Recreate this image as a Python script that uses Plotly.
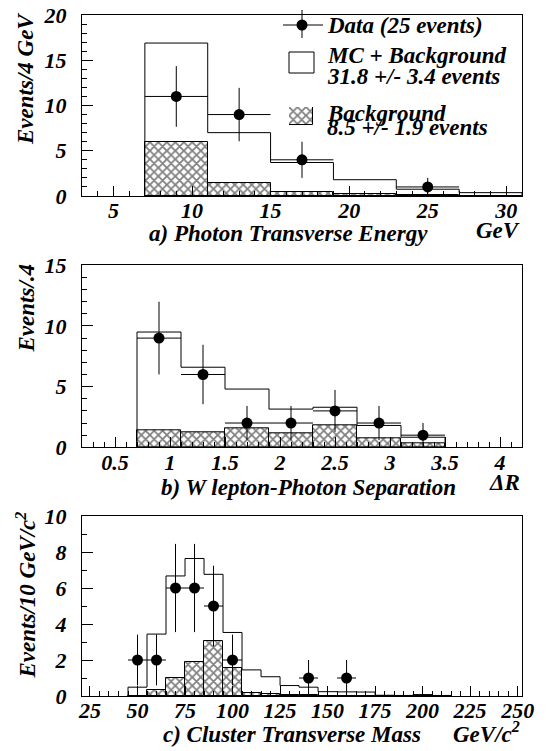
import plotly.graph_objects as go

# ---------------- data ----------------
# a) Photon transverse energy (4 GeV bins)
a_edges = [7, 11, 15, 19, 23, 27, 31]
a_mc = [16.9, 7.0, 3.7, 1.8, 0.75, 0.37]
a_bg = [6.0, 1.4, 0.48, 0.22, 0.08, 0.05]
a_data_x = [9, 13, 17, 25]
a_data_y = [11, 9, 4, 1]
a_data_err = [3.35, 2.95, 2.0, 1.0]
a_data_xerr = [2, 2, 2, 2]

# b) W lepton - photon separation (0.4 bins)
b_edges = [0.7, 1.1, 1.5, 1.9, 2.3, 2.7, 3.1, 3.5]
b_mc = [9.5, 6.6, 4.8, 3.15, 3.3, 1.8, 0.83]
b_bg = [1.38, 1.24, 1.57, 1.13, 1.84, 0.74, 0.3]
b_data_x = [0.9, 1.3, 1.7, 2.1, 2.5, 2.9, 3.3]
b_data_y = [9, 6, 2, 2, 3, 2, 1]
b_data_err = [3.0, 2.45, 1.41, 1.41, 1.73, 1.41, 1.0]
b_data_xerr = [0.2] * 7

# c) Cluster transverse mass (10 GeV/c2 bins)
c_edges = [45, 55, 65, 75, 85, 95, 105, 115, 125, 135, 145, 155, 165, 175,
           185, 195, 205, 215]
c_mc = [0.49, 3.44, 6.67, 7.64, 6.76, 3.53, 1.45, 1.07, 0.58, 0.49, 0.24,
        0.23, 0.22, 0.04, 0.03, 0.08, 0.03]
c_bg = [0.0, 0.36, 1.0, 1.89, 3.07, 1.55, 0.16, 0.13, 0.05, 0.03, 0.02,
        0.02, 0.02, 0.0, 0.0, 0.0, 0.0]
c_data_x = [50, 60, 70, 80, 90, 100, 140, 160]
c_data_y = [2, 2, 6, 6, 5, 2, 1, 1]
c_data_err = [1.41, 1.41, 2.45, 2.45, 2.24, 1.41, 1.0, 1.0]
c_data_xerr = [5] * 8

x_titles = ["a) Photon Transverse Energy", "b) W lepton-Photon Separation",
            "c) Cluster Transverse Mass"]
x_units = ["GeV", "ΔR", "GeV/c<sup>2</sup>"]
y_titles = ["Events/4 GeV", "Events/.4", "Events/10 GeV/c<sup>2</sup>"]
legend_texts = ["Data (25 events)", "MC + Background", "31.8 +/- 3.4 events",
                "Background", "8.5 +/- 1.9 events"]

# ---------------- layout helpers ----------------
# the page body has an 8 px margin, so the figure starts at (8, 8) in the window
OFF = 8
W, H = 546 - OFF, 751 - OFF
FONT = "Liberation Serif"


def px(x):
    return (x - OFF) / W


def py(y):
    return 1 - (y - OFF) / H


def bi(size):
    return dict(family=FONT, size=size, color="black", weight="bold", style="italic")


HATCH = dict(shape="x", fgcolor="black", bgcolor="white", size=6, solidity=0.5)

fig = go.Figure()

panels = [
    dict(edges=a_edges, mc=a_mc, bg=a_bg, dx=a_data_x, dy=a_data_y, de=a_data_err,
         dxe=a_data_xerr),
    dict(edges=b_edges, mc=b_mc, bg=b_bg, dx=b_data_x, dy=b_data_y, de=b_data_err,
         dxe=b_data_xerr),
    dict(edges=c_edges, mc=c_mc, bg=c_bg, dx=c_data_x, dy=c_data_y, de=c_data_err,
         dxe=c_data_xerr),
]

for i, p in enumerate(panels):
    sfx = "" if i == 0 else str(i + 1)
    xa, ya = "x" + sfx, "y" + sfx
    e = p["edges"]
    centers = [(e[k] + e[k + 1]) / 2 for k in range(len(e) - 1)]
    widths = [e[k + 1] - e[k] for k in range(len(e) - 1)]
    # background (hatched)
    fig.add_trace(go.Bar(
        x=centers, y=p["bg"], width=widths, xaxis=xa, yaxis=ya,
        marker=dict(color="white", line=dict(color="black", width=1), pattern=HATCH),
        showlegend=False))
    # MC + background step outline
    sx = [e[0]] + list(e[:-1]) + [e[-1]]
    sy = [0] + list(p["mc"]) + [0]
    fig.add_trace(go.Scatter(
        x=sx, y=sy, mode="lines", line=dict(color="black", width=1, shape="hv"),
        xaxis=xa, yaxis=ya, showlegend=False))
    # data
    fig.add_trace(go.Scatter(
        x=p["dx"], y=p["dy"], mode="markers", xaxis=xa, yaxis=ya,
        marker=dict(color="black", size=11, symbol="circle"),
        error_y=dict(type="data", array=p["de"], color="black", thickness=1, width=0),
        error_x=dict(type="data", array=p["dxe"], color="black", thickness=1, width=0),
        showlegend=False))

# legend hatched swatch on its own tiny axes
fig.add_trace(go.Bar(
    x=[0], y=[1], width=[1], xaxis="x4", yaxis="y4",
    marker=dict(color="white", line=dict(color="black", width=1), pattern=HATCH),
    showlegend=False, hoverinfo="skip"))

xdom = [px(82), px(522)]
ydoms = [[py(196), py(15)], [py(447.3), py(265.3)], [py(696), py(516)]]
xranges = [[3, 31], [0.2, 4.2], [20.8, 252.3]]
yranges = [[0, 20], [0, 15], [0, 10]]
xdticks = [5, 0.5, 25]
xminor = [1, 0.1, 5]
ydticks = [5, 5, 2]
yminor = [1, 1, 1]

layout = dict(
    width=W, height=H, margin=dict(l=0, r=0, t=0, b=0, autoexpand=False),
    paper_bgcolor="white", plot_bgcolor="white", bargap=0, barmode="overlay",
    showlegend=False,
)
for i in range(3):
    sfx = "" if i == 0 else str(i + 1)
    layout["xaxis" + sfx] = dict(
        domain=xdom, range=xranges[i], anchor="y" + sfx, showgrid=False, zeroline=False,
        showline=True, linecolor="black", linewidth=1, mirror=True, automargin=False,
        ticks="inside", ticklen=10, tickwidth=1, tickcolor="black",
        dtick=xdticks[i], tick0=0, tickfont=bi(22), ticklabelstandoff=-5,
        ticklabeloverflow="allow",
        minor=dict(ticks="inside", dtick=xminor[i], ticklen=5, tickcolor="black",
                   tickwidth=1, showgrid=False),
    )
    layout["yaxis" + sfx] = dict(
        domain=ydoms[i], range=yranges[i], anchor="x" + sfx, showgrid=False,
        zeroline=False, showline=True, linecolor="black", linewidth=1, mirror=True,
        automargin=False, ticklabeloverflow="allow",
        ticks="inside", ticklen=11, tickwidth=1, tickcolor="black",
        dtick=ydticks[i], tick0=0, tickfont=bi(22), ticklabelstandoff=10,
        minor=dict(ticks="inside", dtick=yminor[i], ticklen=5, tickcolor="black",
                   tickwidth=1, showgrid=False),
    )
layout["xaxis4"] = dict(domain=[px(289), px(313)], range=[-0.5, 0.5], anchor="y4",
                        visible=False, fixedrange=True, automargin=False)
layout["yaxis4"] = dict(domain=[py(125), py(107)], range=[0, 1], anchor="x4",
                        visible=False, fixedrange=True, automargin=False)
fig.update_layout(**layout)

ann = []
# x-axis titles
xt_pos = [(288, 233), (308, 488), (292, 734)]
xu_pos = [(522, 230), (522, 482), (522, 732)]
for i in range(3):
    ann.append(dict(x=px(xt_pos[i][0]), y=py(xt_pos[i][1]), xref="paper", yref="paper",
                    text=x_titles[i], showarrow=False, xanchor="center", yanchor="middle",
                    font=bi(23)))
    ann.append(dict(x=px(xu_pos[i][0]), y=py(xu_pos[i][1]), xref="paper", yref="paper",
                    text=x_units[i], showarrow=False, xanchor="right", yanchor="middle",
                    font=bi(23)))
# y-axis titles
yt_top = [11, 262, 510]
for i in range(3):
    ann.append(dict(x=px(26), y=py(yt_top[i]), xref="paper", yref="paper",
                    text=y_titles[i], showarrow=False, xanchor="center", yanchor="top",
                    textangle=-90, font=bi(23)))
# legend texts
leg_y = [26, 55, 76.5, 113, 127.5]
for t, yy in zip(legend_texts, leg_y):
    ann.append(dict(x=px(325), y=py(yy), xref="paper", yref="paper", text=t,
                    showarrow=False, xanchor="left", yanchor="middle", font=bi(23)))
fig.update_layout(annotations=ann)

# legend symbols
shapes = [
    dict(type="line", xref="paper", yref="paper", x0=px(283), x1=px(323),
         y0=py(25), y1=py(25), line=dict(color="black", width=1)),
    dict(type="line", xref="paper", yref="paper", x0=px(302), x1=px(302),
         y0=py(10), y1=py(38), line=dict(color="black", width=1)),
    dict(type="circle", xref="paper", yref="paper", x0=px(296.5), x1=px(307.5),
         y0=py(30.5), y1=py(19.5), fillcolor="black", line=dict(color="black", width=0)),
    dict(type="rect", xref="paper", yref="paper", x0=px(289), x1=px(314),
         y0=py(73), y1=py(52), fillcolor="white", line=dict(color="black", width=1)),
]
fig.update_layout(shapes=shapes)

fig.write_html("out.html")
